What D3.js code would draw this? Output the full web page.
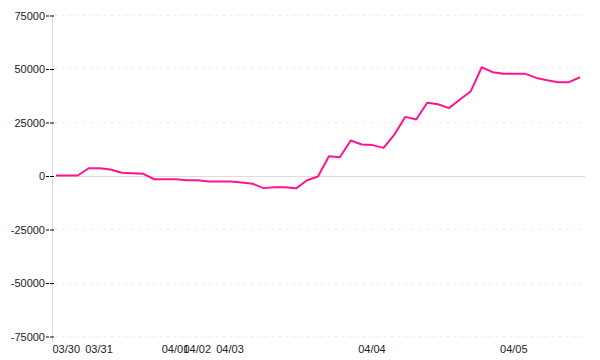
<!DOCTYPE html>
<html>
<head>
<meta charset="utf-8">
<script src="https://cdn.jsdelivr.net/npm/d3@7"></script>
<style>
  body { margin: 0; background: #fff; }
  svg text { font-family: "Liberation Sans", Arial, sans-serif; font-size: 11px; fill: #222; }
</style>
</head>
<body>
<div id="chart"></div>
<script>
// one value per sample, in order
var values = [
  0, 0, 0, 3400, 3400, 2800, 1260, 1100, 800, -1750,
  -1750, -1750, -2200, -2200, -2800, -2800, -2800, -3300, -3800, -5900,
  -5450, -5450, -6000, -2200, -500, 9000, 8500, 16350, 14500, 14200,
  12900, 19150, 27400, 26200, 34000, 33300, 31500, 35500, 39400, 50600,
  48300, 47500, 47500, 47500, 45600, 44500, 43600, 43600, 45900
];
// first sample of each day
var dayIndex = [0, 3, 10, 12, 15, 28, 41];
var dayLabels = ["03/30", "03/31", "04/01", "04/02", "04/03", "04/04", "04/05"];
var yTicks = [-75000, -50000, -25000, 0, 25000, 50000, 75000];

var width = 600, height = 360;
// plot box (note: "top" is taken by window.top)
var plotLeft = 52, plotRight = 585, plotTop = 15, plotBottom = 336;

var svg = d3.select("#chart").append("svg")
  .attr("width", width)
  .attr("height", height);

var x = d3.scaleLinear()
  .domain([0, values.length - 1])
  .range([plotLeft + 4, plotRight - 5]);

var y = d3.scaleLinear()
  .domain([-75000, 75000])
  .range([plotBottom, plotTop]);

/* grid */
svg.append("g").selectAll("line")
  .data(yTicks)
  .enter().append("line")
  .attr("x1", function (d) { return d === 0 ? plotLeft : plotLeft + 3; })
  .attr("x2", plotRight)
  .attr("y1", function (d) { return Math.round(y(d)) + 0.5; })
  .attr("y2", function (d) { return Math.round(y(d)) + 0.5; })
  .attr("stroke", function (d) { return d === 0 ? "#dcdcdc" : "#e8e8e8"; })
  .attr("stroke-dasharray", function (d) { return d === 0 ? null : "2,5"; });

/* vertical axis line */
svg.append("line")
  .attr("x1", plotLeft + 0.5).attr("x2", plotLeft + 0.5)
  .attr("y1", plotTop).attr("y2", plotBottom + 7)
  .attr("stroke", "#dcdcdc");

/* y axis */
var yAxis = svg.append("g")
  .attr("transform", "translate(" + (plotLeft + 2) + ",0.5)")
  .call(d3.axisLeft(y)
    .tickValues(yTicks)
    .tickSize(8)
    .tickPadding(1)
    .tickFormat(function (d) { return String(d); }));
yAxis.select(".domain").remove();
yAxis.selectAll(".tick line")
  .attr("stroke", "#000")
  .attr("stroke-dasharray", "4,1");
yAxis.selectAll(".tick text")
  .attr("fill", "#222")
  .style("font-family", "'Liberation Sans', Arial, sans-serif")
  .style("font-size", "11px");

/* x axis */
var xAxis = svg.append("g")
  .attr("transform", "translate(0," + (plotBottom + 9) + ")")
  .call(d3.axisBottom(x)
    .tickValues(dayIndex)
    .tickSize(0)
    .tickPadding(0)
    .tickFormat(function (d, i) { return dayLabels[i]; }));
xAxis.select(".domain").remove();
xAxis.selectAll(".tick text")
  .attr("text-anchor", "start")
  .attr("dx", -4)
  .attr("fill", "#222")
  .style("font-family", "'Liberation Sans', Arial, sans-serif")
  .style("font-size", "11px");

/* series line */
var line = d3.line()
  .x(function (d, i) { return x(i); })
  .y(function (d) { return y(d); });

svg.append("path")
  .datum(values)
  .attr("d", line)
  .attr("fill", "none")
  .attr("stroke", "#ff1493")
  .attr("stroke-width", 2)
  .attr("stroke-linejoin", "round");
</script>
</body>
</html>
